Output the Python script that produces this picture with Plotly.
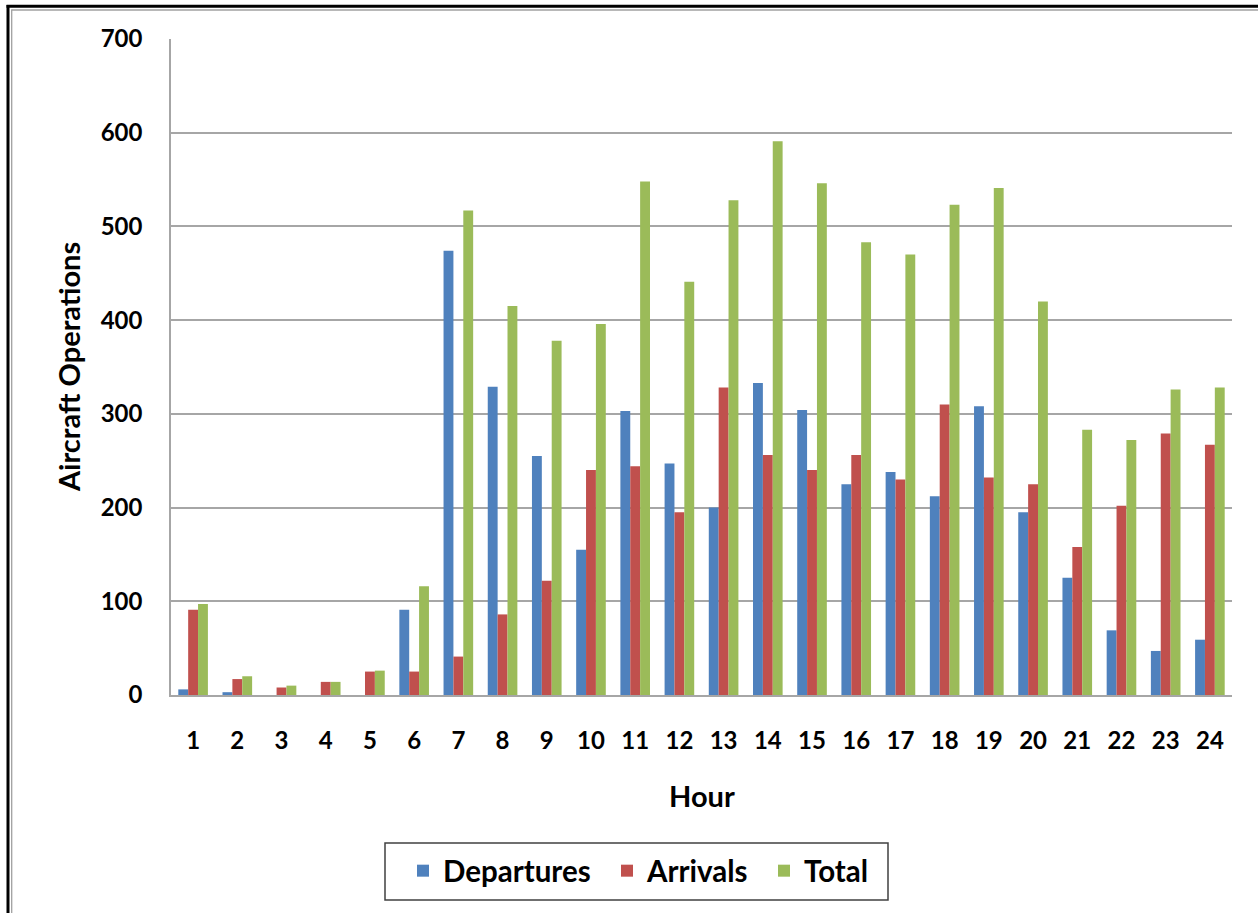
import plotly.graph_objects as go

hours = [str(h) for h in range(1, 25)]
departures = [6, 3, 0, 0, 0, 91, 474, 329, 255, 155, 303, 247, 200, 333, 304, 225, 238, 212, 308, 195, 125, 69, 47, 59]
arrivals = [91, 17, 8, 14, 25, 25, 41, 86, 122, 240, 244, 195, 328, 256, 240, 256, 230, 310, 232, 225, 158, 202, 279, 267]
total = [97, 20, 10, 14, 26, 116, 517, 415, 378, 396, 548, 441, 528, 591, 546, 483, 470, 523, 541, 420, 283, 272, 326, 328]

y_ticks = [0, 100, 200, 300, 400, 500, 600, 700]

FONT = "Lato"
L, R, T, B = 171, 1232, 39, 695
W, H = 1258, 913


def px_x(p):
    return (p - L) / (R - L)


def px_y(p):
    return (B - p) / (B - T)


series = [("Departures", departures, "#4F81BD", "legend", 403),
          ("Arrivals", arrivals, "#C0504D", "legend2", 607),
          ("Total", total, "#9BBB59", "legend3", 764)]

fig = go.Figure()
for name, vals, color, lg, _ in series:
    fig.add_trace(go.Bar(x=hours, y=vals, name=name, legend=lg,
                         marker=dict(color=color, line=dict(width=0))))

legend_common = dict(orientation="h", xanchor="left", yanchor="middle", y=px_y(871),
                     bgcolor="rgba(0,0,0,0)", borderwidth=0,
                     font=dict(size=29.5, family=FONT, weight="bold", color="black"))

fig.update_layout(
    width=W, height=H,
    margin=dict(l=L, r=W - R, t=T, b=H - B, pad=0),
    paper_bgcolor="white", plot_bgcolor="white",
    barmode="group", bargap=0.33, bargroupgap=0,
    font=dict(family=FONT, color="black", weight="bold"),
    xaxis=dict(type="category", showgrid=False, showline=True, linecolor="#A6A6A6", linewidth=1.5,
               ticks="", tickfont=dict(size=24, family=FONT, weight="bold"), ticklabelstandoff=23),
    yaxis=dict(range=[0, 700], tickvals=y_ticks, showgrid=True, gridcolor="#A6A6A6", gridwidth=1.5,
               showline=True, linecolor="#A6A6A6", linewidth=1.5, zeroline=False,
               ticks="", tickfont=dict(size=24, family=FONT, weight="bold"), ticklabelstandoff=22),
    legend=dict(x=px_x(series[0][4]), **legend_common),
    legend2=dict(x=px_x(series[1][4]), **legend_common),
    legend3=dict(x=px_x(series[2][4]), **legend_common),
    showlegend=True,
)

fig.add_annotation(text="Hour", x=0.5, y=px_y(795), xref="paper", yref="paper", showarrow=False,
                   font=dict(size=29, family=FONT, weight="bold"), xanchor="center", yanchor="middle")
fig.add_annotation(text="Aircraft Operations", x=px_x(68), y=0.5, xref="paper", yref="paper", showarrow=False,
                   textangle=-90, font=dict(size=29, family=FONT, weight="bold"), xanchor="center", yanchor="middle")

# legend box
fig.add_shape(type="rect", xref="paper", yref="paper", x0=px_x(385), x1=px_x(888), y0=px_y(843), y1=px_y(900),
              line=dict(color="#404040", width=1.5), fillcolor="rgba(0,0,0,0)", layer="below")

# frame lines
fig.add_shape(type="line", xref="paper", yref="paper", x0=px_x(6.5), x1=px_x(W + 5), y0=px_y(6.3), y1=px_y(6.3),
              line=dict(color="black", width=3))
fig.add_shape(type="line", xref="paper", yref="paper", x0=px_x(11.5), x1=px_x(W + 5), y0=px_y(10), y1=px_y(10),
              line=dict(color="#A0A0A0", width=1.3))
fig.add_shape(type="line", xref="paper", yref="paper", x0=px_x(8), x1=px_x(8), y0=px_y(5), y1=px_y(H + 5),
              line=dict(color="black", width=3))
fig.add_shape(type="line", xref="paper", yref="paper", x0=px_x(11.7), x1=px_x(11.7), y0=px_y(9.5), y1=px_y(H + 5),
              line=dict(color="#A0A0A0", width=1.3))

fig.write_html("out.html", config={"displayModeBar": False},
               post_script="document.body.style.margin='0';document.body.style.overflow='hidden';")
